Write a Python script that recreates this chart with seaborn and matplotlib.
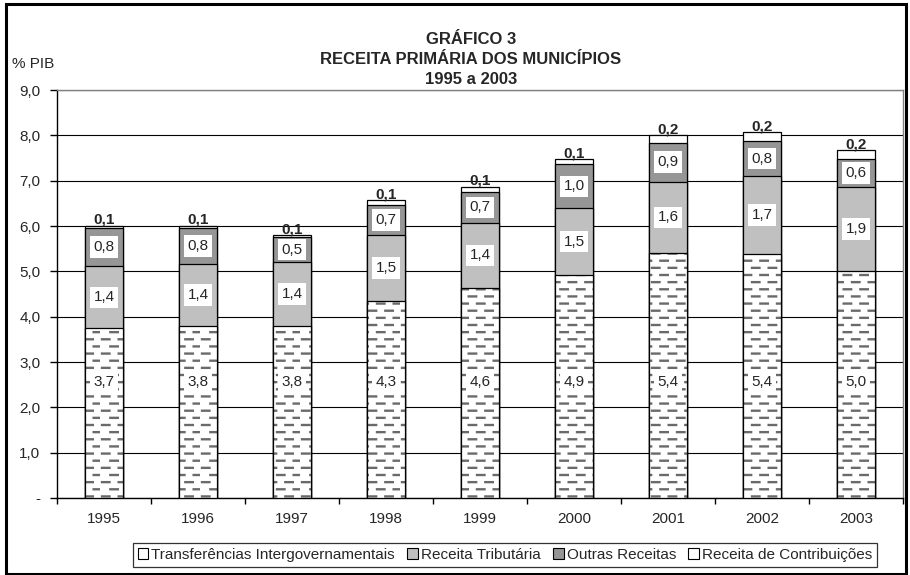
import numpy as np
import pandas as pd
import matplotlib
matplotlib.use("Agg")
import matplotlib.pyplot as plt
import matplotlib.hatch as mhatch
import matplotlib.patches as mpatches
import matplotlib.colors as mcolors
from matplotlib.path import Path
import seaborn as sns

# ---------------- data ----------------
years = ["1995", "1996", "1997", "1998", "1999", "2000", "2001", "2002", "2003"]
transferencias = [3.74, 3.80, 3.79, 4.34, 4.63, 4.92, 5.40, 5.38, 5.01]
tributaria = [1.37, 1.36, 1.42, 1.46, 1.44, 1.47, 1.58, 1.72, 1.86]
outras = [0.84, 0.79, 0.54, 0.67, 0.68, 0.97, 0.86, 0.77, 0.61]
contribuicoes = [0.06, 0.06, 0.06, 0.11, 0.12, 0.11, 0.16, 0.20, 0.20]
series_names = ["Transferências Intergovernamentais", "Receita Tributária",
                "Outras Receitas", "Receita de Contribuições"]
yticks_vals = [0, 1, 2, 3, 4, 5, 6, 7, 8, 9]
title_lines = ["GRÁFICO 3", "RECEITA PRIMÁRIA DOS MUNICÍPIOS", "1995 a 2003"]


# ---------------- dashed hatch (replaces the '-' hatch) ----------------
class DashedRowsHatch(mhatch.HatchPatternBase):
    ROWS = 14
    DASHES = 6
    FRAC = 0.45

    def __init__(self, hatch, density):
        n = hatch.count('-')
        self.rows = self.ROWS * n
        self.num_vertices = self.rows * self.DASHES * 2

    def set_vertices_and_codes(self, vertices, codes):
        p = 1.0 / self.DASHES
        L = p * self.FRAC
        idx = 0
        for r in range(self.rows):
            y = (r + 0.5) / self.rows
            off = 0.0 if r % 2 == 0 else p / 2
            for k in range(self.DASHES):
                x0 = off + k * p + 0.02
                vertices[idx] = (x0, y)
                vertices[idx + 1] = (x0 + L, y)
                codes[idx] = Path.MOVETO
                codes[idx + 1] = Path.LINETO
                idx += 2


mhatch._hatch_types = [DashedRowsHatch if t is mhatch.HorizontalHatch else t
                       for t in mhatch._hatch_types]

sns.set_style("white")
plt.rcParams["font.family"] = ["Liberation Sans", "DejaVu Sans"]
plt.rcParams["hatch.linewidth"] = 1.7

df = pd.DataFrame({"ano": years, "t": transferencias, "r": tributaria,
                   "o": outras, "c": contribuicoes})
df["cum1"] = df["t"]
df["cum2"] = df["cum1"] + df["r"]
df["cum3"] = df["cum2"] + df["o"]
df["cum4"] = df["cum3"] + df["c"]

W, H = 910, 575
fig = plt.figure(figsize=(W / 100, H / 100), dpi=100)
ax = fig.add_axes([57 / W, 1 - 498 / H, (903 - 57) / W, (498 - 90) / H])

c_trib = "#c0c0c0"
c_outras = "#969696"
bw = 0.4
lw = 0.9
fs = 11

sns.barplot(data=df, x="ano", y="cum4", color="white", edgecolor="black",
            linewidth=lw, width=bw, ax=ax, order=years, saturation=1, zorder=3)
sns.barplot(data=df, x="ano", y="cum3", color=c_outras, edgecolor="black",
            linewidth=lw, width=bw, ax=ax, order=years, saturation=1, zorder=3)
sns.barplot(data=df, x="ano", y="cum2", color=c_trib, edgecolor="black",
            linewidth=lw, width=bw, ax=ax, order=years, saturation=1, zorder=3)
n_before = len(ax.patches)
sns.barplot(data=df, x="ano", y="cum1", color="white", edgecolor="black",
            linewidth=lw, width=bw, ax=ax, order=years, saturation=1,
            hatch="-", zorder=3)
for p in ax.patches[n_before:]:
    p._hatch_color = mcolors.to_rgba("#6a6a6a")

# ---------------- labels ----------------
box = dict(boxstyle="square,pad=0.25", facecolor="white", edgecolor="none")
for i in range(len(years)):
    ax.text(i, 2.55, f"{transferencias[i]:.1f}".replace(".", ","), ha="center",
            va="center", fontsize=fs, bbox=box, zorder=5)
    ax.text(i, df["cum1"][i] + tributaria[i] / 2, f"{tributaria[i]:.1f}".replace(".", ","),
            ha="center", va="center", fontsize=fs, bbox=box, zorder=5)
    ax.text(i, df["cum2"][i] + outras[i] / 2, f"{outras[i]:.1f}".replace(".", ","),
            ha="center", va="center", fontsize=fs, bbox=box, zorder=5)
    ax.annotate(f"{contribuicoes[i]:.1f}".replace(".", ","), (i, df["cum4"][i]),
                xytext=(0, -1.0), textcoords="offset points", ha="center",
                va="bottom", fontsize=fs, fontweight="bold", zorder=5)

# ---------------- axes ----------------
ax.set_ylim(0, 9)
ax.set_xlim(-0.5, len(years) - 0.5)
ax.set_yticks(yticks_vals)
ax.set_yticklabels(["-" if v == 0 else f"{v:.1f}".replace(".", ",") for v in yticks_vals])
ax.yaxis.grid(True, color="black", linewidth=0.8, zorder=0)
ax.set_axisbelow(True)
ax.set_xlabel("")
ax.set_ylabel("")
ax.tick_params(axis="y", which="major", length=5, width=1, color="black",
               direction="out", pad=7, labelsize=fs, left=True)
ax.set_xticks(range(len(years)))
ax.set_xticklabels(years)
ax.set_xticks(np.arange(-0.5, len(years), 1.0), minor=True)
ax.tick_params(axis="x", which="major", length=0, pad=10, labelsize=fs)
ax.tick_params(axis="x", which="minor", length=4, width=1, color="black",
               direction="out", bottom=True)
for s in ["left", "bottom"]:
    ax.spines[s].set_color("black")
    ax.spines[s].set_linewidth(1.0)
for s in ["top", "right"]:
    ax.spines[s].set_visible(True)
    ax.spines[s].set_color("#808080")
    ax.spines[s].set_linewidth(1.0)

# ---------------- titles ----------------
for k, line in enumerate(title_lines):
    fig.text(471 / W, 1 - (40 + 20 * k) / H, line, ha="center", va="center",
             fontsize=12, fontweight="bold")
fig.text(12 / W, 1 - 64 / H, "% PIB", ha="left", va="center", fontsize=fs)

# ---------------- legend ----------------
handles = [mpatches.Patch(facecolor="white", edgecolor="black", linewidth=0.8),
           mpatches.Patch(facecolor=c_trib, edgecolor="black", linewidth=0.8),
           mpatches.Patch(facecolor=c_outras, edgecolor="black", linewidth=0.8),
           mpatches.Patch(facecolor="white", edgecolor="black", linewidth=0.8)]
leg = fig.legend(handles, series_names, loc="center", ncol=4,
                 bbox_to_anchor=(505 / W, 1 - 555 / H), fontsize=fs,
                 frameon=True, fancybox=False, edgecolor="black",
                 handlelength=0.7, handleheight=0.7, handletextpad=0.2,
                 columnspacing=0.8, borderpad=0.3, borderaxespad=0)
leg.get_frame().set_linewidth(0.9)

# ---------------- figure border ----------------
fig.add_artist(mpatches.Rectangle((6 / W, 1 / H), (906 - 6) / W, (570) / H,
                                  transform=fig.transFigure, fill=False,
                                  edgecolor="black", linewidth=2.2))

fig.savefig("out.png", dpi=100)
